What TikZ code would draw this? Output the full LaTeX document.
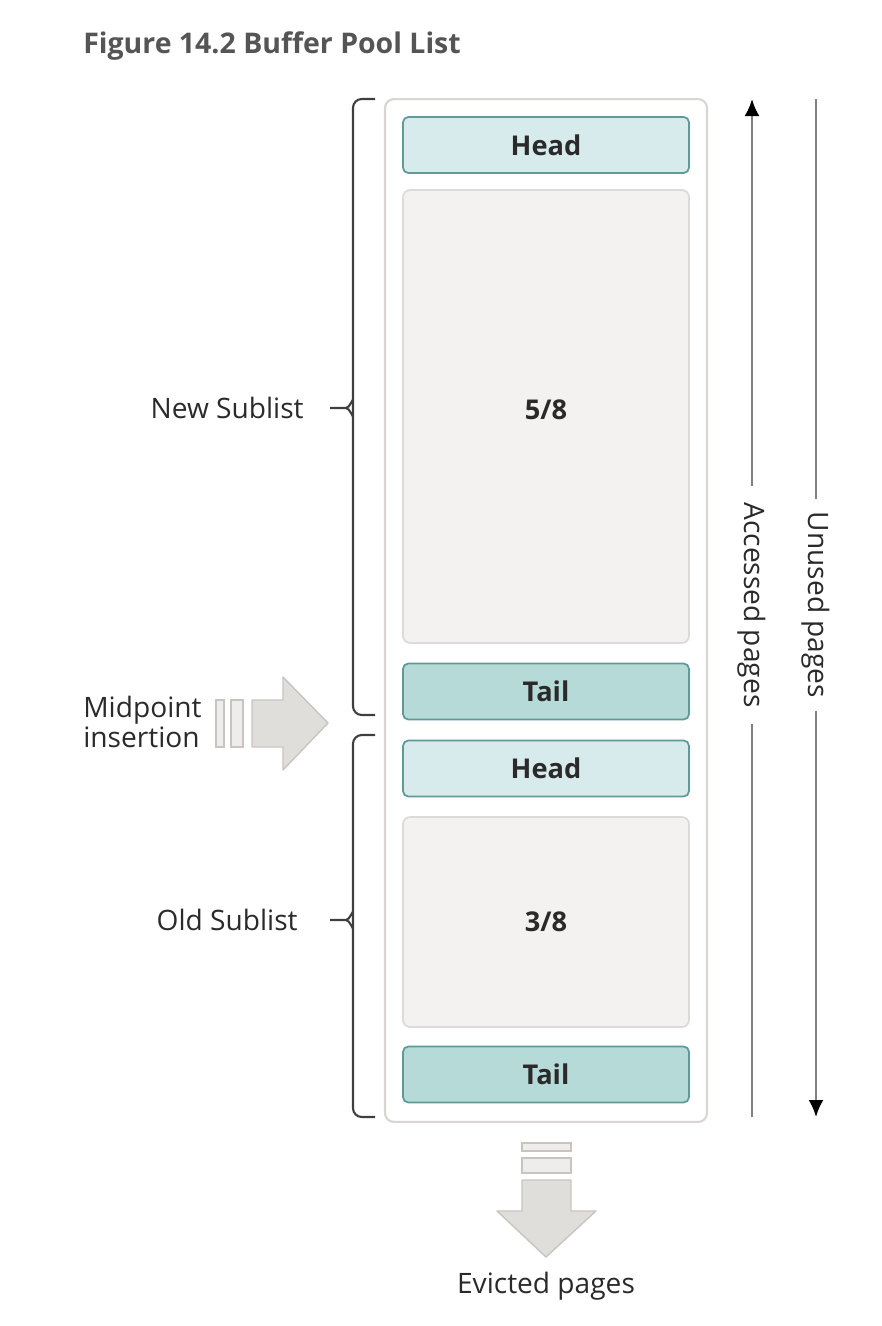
\documentclass[tikz,border=0pt]{standalone}
\usepackage{fontspec}
\setmainfont{Open Sans}
\usepackage{xcolor}
\usetikzlibrary{arrows.meta,positioning,calc}
\definecolor{titlegray}{HTML}{555555}
\definecolor{ink}{HTML}{2A2A2A}
\definecolor{framegray}{HTML}{D9D5D1}
\definecolor{headfill}{HTML}{D7EBED}
\definecolor{tailfill}{HTML}{B6DAD7}
\definecolor{slotedge}{HTML}{5F9A98}
\definecolor{bodyfill}{HTML}{F3F2F1}
\definecolor{bodyedge}{HTML}{DDDAD7}
\definecolor{flowfill}{HTML}{E0DEDB}
\definecolor{flowbar}{HTML}{EEEDEB}
\definecolor{flowedge}{HTML}{C8C5C1}
\definecolor{lanegray}{HTML}{808080}
\tikzset{
  slot/.style={rectangle, rounded corners=3pt, draw=slotedge, line width=1pt, fill=headfill,
    text=ink, font=\fontsize{15.5}{18}\selectfont\bfseries, minimum width=5.72cm, minimum height=1.12cm},
  tailslot/.style={slot, fill=tailfill},
  bodyslot/.style={rectangle, rounded corners=4pt, draw=bodyedge, line width=1pt, fill=bodyfill,
    text=ink, font=\fontsize{15.5}{18}\selectfont\bfseries, minimum width=5.72cm},
  sidetext/.style={text=ink, inner sep=0pt},
  lanetext/.style={text=ink, rotate=-90, inner ysep=2pt},
  lane/.style={lanegray, line width=1.3pt},
  lanetip/.style={-{Latex[length=3.4mm,width=3mm,color=black]}},
  bracket/.style={ink!90, line width=1.2pt, rounded corners=5pt},
  flowarrow/.style={fill=flowfill, draw=flowedge, line width=0.8pt, line join=round},
  flowbox/.style={fill=flowbar, draw=flowedge, line width=0.8pt}
}

\begin{document}
\begin{tikzpicture}[x=0.02cm, y=-0.02cm, font=\fontsize{16}{19}\selectfont]
  \useasboundingbox (0,0) rectangle (882,1326);
  \node[anchor=base west, inner sep=0pt, text=titlegray, font=\fontsize{16.2}{19}\selectfont\bfseries] (title) at (83,53) {Figure 14.2 Buffer Pool List};

  % buffer pool and its slots
  \node[rectangle, rounded corners=5pt, draw=framegray, line width=1.2pt, fill=white,
    minimum width=6.44cm, minimum height=20.46cm] (pool) at (546,610.5) {};
  \node[slot] (newhead) at (546,145) {Head};
  \node[bodyslot, minimum height=9.06cm] (newbody) at (546,416.5) {};
  \node[font=\fontsize{15.5}{18}\selectfont\bfseries, text=ink] (newshare) at (546,410) {5/8};
  \node[tailslot] (newtail) at (546,691.5) {Tail};
  \node[slot] (oldhead) at (546,768.5) {Head};
  \node[bodyslot, minimum height=4.2cm] (oldbody) at (546,922) {3/8};
  \node[tailslot] (oldtail) at (546,1074.5) {Tail};

  % sublists
  \node[sidetext, anchor=base east] (newlbl) at (304,418) {New Sublist};
  \node[sidetext, anchor=base east] (oldlbl) at (298,930) {Old Sublist};
  \foreach \top/\bot/\tip in {99/715/408, 735/1117/920}{
    \draw[bracket] (375,\top) -- (353,\top) -- (353,\bot) -- (375,\bot);
    \draw[bracket, rounded corners=0pt] (330,\tip) -- (346,\tip) to[out=0,in=90] (353,\tip-7)
      (346,\tip) to[out=0,in=-90] (353,\tip+7);
  }

  % midpoint insertion
  \node[sidetext, anchor=west, align=left, font=\fontsize{16}{14.5}\selectfont] (midlbl) at (83,722) {Midpoint\\insertion};
  \draw[flowbox] (216,700) rectangle (224,747);
  \draw[flowbox] (231,700) rectangle (243,747);
  \draw[flowarrow] (252,700) -- (283,700) -- (283,677) -- (328,723) -- (283,770) -- (283,747) -- (252,747) -- cycle;

  % evicted pages
  \draw[flowbox] (522,1143) rectangle (571,1151);
  \draw[flowbox] (522,1158) rectangle (571,1173);
  \draw[flowarrow] (522,1180) -- (571,1180) -- (571,1211) -- (596,1211) -- (546,1257) -- (497,1211) -- (522,1211) -- cycle;
  \node[sidetext, anchor=base] (evictlbl) at (546,1293) {Evicted pages};

  % page lanes
  \coordinate (acctop) at (752,99);
  \coordinate (accbot) at (752,1117);
  \coordinate (unutop) at (816,99);
  \coordinate (unubot) at (816,1117);
  \node[lanetext, inner xsep=9pt] (acclbl) at (752,605) {Accessed pages};
  \node[lanetext, inner xsep=7pt] (unulbl) at (816,605) {Unused pages};
  \draw[lane] (accbot) -- (acclbl.east);
  \draw[lane, lanetip] (acclbl.west) -- (acctop);
  \draw[lane] (unutop) -- (unulbl.west);
  \draw[lane, lanetip] (unulbl.east) -- (unubot);
\end{tikzpicture}
\end{document}
